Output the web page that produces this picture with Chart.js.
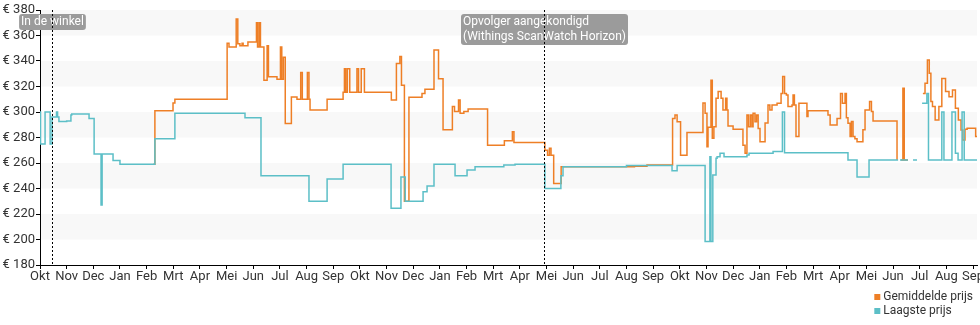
<!DOCTYPE html>
<html lang="nl">
<head>
<meta charset="utf-8">
<title>Prijsverloop</title>
<script src="https://cdn.jsdelivr.net/npm/chart.js@4.4.1/dist/chart.umd.min.js"></script>
<style>
  html, body { margin: 0; padding: 0; background: #fff; }
  #wrap { position: relative; width: 980px; height: 325px; }
</style>
</head>
<body>
<div id="wrap"><canvas id="prijsChart"></canvas></div>
<script>
// x = maanden sinds begin okt (0 = Okt, 35 = Sep drie jaar later)
const maanden = [
  'Okt','Nov','Dec','Jan','Feb','Mrt','Apr','Mei','Jun','Jul','Aug','Sep',
  'Okt','Nov','Dec','Jan','Feb','Mrt','Apr','Mei','Jun','Jul','Aug','Sep',
  'Okt','Nov','Dec','Jan','Feb','Mrt','Apr','Mei','Jun','Jul','Aug','Sep'
]
const prijsTicks = [180, 200, 220, 240, 260, 280, 300, 320, 340, 360, 380]

// [maand, prijs in euro], null = geen prijs bekend
const gemiddeldePrijs = [
  [4.25, 259], [4.31, 301], [4.99, 307], [5.06, 310],
  [7.02, 354], [7.09, 351], [7.36, 373], [7.42, 353.5], [7.50, 352], [7.58, 354], [7.62, 352], [7.80, 355],
  [8.12, 370], [8.16, 351], [8.22, 370], [8.27, 351], [8.40, 325], [8.52, 352], [8.57, 327.7], [8.89, 325.6],
  [9.02, 351], [9.07, 325.6], [9.13, 343], [9.20, 291], [9.43, 311.7], [9.64, 310], [9.78, 331], [9.84, 310],
  [10.03, 331], [10.09, 310], [10.13, 301.6], [10.77, 310], [11.37, 315.4], [11.42, 334], [11.47, 315.4],
  [11.53, 334], [11.62, 315.4], [11.89, 334], [11.95, 315.4], [12.05, 334], [12.17, 315.4],
  [13.18, 309.4], [13.37, 338], [13.50, 343.5], [13.56, 321], [13.67, 230], [13.84, 311.5], [14.33, 314.6],
  [14.44, 317.8], [14.78, 348.6], [14.95, 326], [15.12, 286], [15.47, 304.3], [15.55, 300.4], [15.70, 309.4],
  [15.76, 299], [15.90, 300.4], [16.06, 302.4], [16.79, 274], [17.42, 277.5], [17.72, 284.5], [17.78, 276],
  [18.94, 270], [19.04, 266], [19.11, 271.5], [19.17, 266], [19.27, 244], [19.55, 257], [22.3, 257.5], [22.77, 258.4],
  [23.73, 295], [23.82, 297.6], [23.90, 292.4], [24.03, 266], [24.27, 284], [24.87, 307], [24.95, 299],
  [25.02, 272.8], [25.06, 288], [25.17, 325], [25.22, 279.4], [25.28, 288.5], [25.36, 310.7], [25.44, 316],
  [25.55, 310.7], [25.62, 301.6], [25.72, 310.7], [25.77, 301.6], [25.81, 289], [26.0, 286.5], [26.37, 274],
  [26.45, 267.6], [26.52, 297.6], [26.58, 288.5], [26.65, 297.6], [26.71, 288.5], [26.75, 299], [26.82, 292.4],
  [26.88, 297.6], [26.94, 287], [27.01, 276.7], [27.20, 291.3], [27.31, 305.5], [27.38, 301.6], [27.46, 305.5],
  [27.65, 306.8], [27.80, 314.6], [27.86, 327.8], [27.93, 314.6], [28.0, 313.3], [28.06, 304.3], [28.21, 305.5],
  [28.25, 313.3], [28.30, 305.5], [28.36, 280.8], [28.47, 306.8], [28.77, 296.5], [28.81, 301], [29.56, 297.6],
  [29.64, 289.8], [29.90, 295], [30.03, 314.6], [30.10, 306.8], [30.20, 314.6], [30.25, 295.5], [30.31, 291.2],
  [30.39, 280.8], [30.44, 292.5], [30.50, 280.8], [30.57, 279], [30.65, 276.7], [30.87, 286], [30.95, 301.6],
  [31.12, 308.3], [31.19, 300.4], [31.25, 293], [32.15, 262.4], [32.22, null],
  [32.30, 262.4], [32.37, 318.6], [32.42, 262.4], [32.56, 262.4], [32.62, null],
  [33.12, 314.6], [33.20, 322.6], [33.29, 340.8], [33.36, 330.3], [33.42, 308.3], [33.48, 304.3], [33.58, 293.7],
  [33.72, 304.3], [33.83, 326.3], [33.97, 316], [34.10, 312], [34.23, 317.3], [34.34, 303], [34.45, 293.7],
  [34.55, 285.9], [34.62, 278], [34.70, 286.4], [34.78, 287.2], [35.10, 280.8], [35.15, 280.8]
]

const laagstePrijs = [
  [0, 300], [0.02, 275], [0.19, 300], [0.38, 275], [0.45, 296], [0.62, 300], [0.66, 296], [0.71, 292.5],
  [1.0, 293], [1.16, 297.6], [1.19, 298.4], [1.84, 295], [2.03, 267], [2.29, 227], [2.33, 267], [2.74, 262],
  [3.0, 259], [4.31, 279], [5.06, 299], [7.69, 295.5], [8.29, 250], [10.09, 230], [10.77, 247.5], [11.37, 259],
  [13.17, 224.5], [13.54, 249], [13.70, 230], [14.37, 237.5], [14.52, 242], [14.78, 259], [15.57, 250],
  [16.02, 254.5], [16.32, 257], [17.40, 258.4], [17.82, 259], [18.94, 240], [19.54, 250], [19.62, 257],
  [22.0, 258], [23.71, 254], [23.90, 258], [24.95, 198.5], [25.13, 265], [25.17, 198.5], [25.24, 250.6],
  [25.36, 263.7], [25.40, 265], [25.51, 267.6], [25.66, 265], [26.52, 266.3], [26.60, 267.6], [27.50, 269],
  [27.85, 300], [27.93, 268], [30.31, 262.4], [30.65, 249], [31.10, 262.4], [32.19, 262.4], [32.22, null],
  [32.26, 262.4], [32.56, 262.4], [32.62, null], [32.75, 262.4], [32.90, 262.4], [32.95, null],
  [33.09, 306.8], [33.27, 314.6], [33.33, 262.4], [33.83, 300], [33.91, 262.4], [34.21, 300], [34.34, 267.6],
  [34.44, 262.4], [34.59, 300], [34.67, 262.4], [35.15, 262.4]
]

const gebeurtenisMaand = [0.45, 18.91]
const gebeurtenisTekst = [['In de winkel'], ['Opvolger aangekondigd', '(Withings ScanWatch Horizon)']]

const toPts = arr => arr.map(([x, y]) => ({ x, y }))

// lichtgrijze banden om de 20 euro (200-220, 240-260, ...)
const banden = {
  id: 'banden',
  beforeDraw(chart) {
    const { ctx, chartArea, scales: { y } } = chart
    ctx.save()
    ctx.fillStyle = '#f8f8f8'
    prijsTicks.forEach((v, i) => {
      if (i > 0 && i % 2 === 0) {
        const top = y.getPixelForValue(v)
        const bot = y.getPixelForValue(prijsTicks[i - 1])
        ctx.fillRect(chartArea.left, top, chartArea.right - chartArea.left, bot - top)
      }
    })
    ctx.restore()
  }
}

// gebeurtenissen: label + stippellijn
const gebeurtenissen = {
  id: 'gebeurtenissen',
  afterDatasetsDraw(chart) {
    const { ctx, chartArea, scales: { x } } = chart
    ctx.save()
    ctx.font = '12px Roboto'
    gebeurtenisMaand.forEach((m, i) => {
      const px = Math.round(x.getPixelForValue(m)) + 0.5
      const lines = gebeurtenisTekst[i]
      const w = Math.max(...lines.map(l => ctx.measureText(l).width)) + 4
      const h = lines.length * 15 + 1
      const left = px - w / 2
      const top = chartArea.top + 4
      ctx.fillStyle = '#9b9b9b'
      ctx.beginPath()
      ctx.roundRect(left, top, w, h, 3)
      ctx.fill()
      ctx.fillStyle = '#fff'
      ctx.textBaseline = 'middle'
      lines.forEach((l, j) => ctx.fillText(l, left + 2, top + 8 + j * 15))
      ctx.strokeStyle = '#000'
      ctx.lineWidth = 1
      ctx.setLineDash([2, 2])
      ctx.beginPath()
      ctx.moveTo(px, chartArea.top)
      ctx.lineTo(px, chartArea.bottom)
      ctx.stroke()
      ctx.setLineDash([])
    })
    ctx.restore()
  }
}

// legenda rechtsonder, onder elkaar
const legenda = {
  id: 'legenda',
  afterDraw(chart) {
    const { ctx, chartArea } = chart
    const items = chart.data.datasets
    ctx.save()
    ctx.font = '12px Roboto'
    ctx.textBaseline = 'middle'
    const maxW = Math.max(...items.map(d => ctx.measureText(d.label).width))
    const x0 = chart.width - 7 - maxW - 9
    items.forEach((d, i) => {
      const yy = chartArea.bottom + 32 + i * 14
      ctx.fillStyle = d.borderColor
      ctx.fillRect(x0, yy - 3, 6, 6)
      ctx.fillStyle = '#333'
      ctx.fillText(d.label, x0 + 9, yy)
    })
    ctx.restore()
  }
}

const tickFont = { family: 'Roboto', size: 13 }

const chart = new Chart(document.getElementById('prijsChart'), {
  type: 'line',
  data: {
    datasets: [{
      label: 'Gemiddelde prijs',
      data: toPts(gemiddeldePrijs),
      borderColor: '#ee7f26',
      backgroundColor: '#ee7f26',
      borderWidth: 1.5,
      pointRadius: 0,
      stepped: true,
      spanGaps: false,
      order: 2
    }, {
      label: 'Laagste prijs',
      data: toPts(laagstePrijs),
      borderColor: '#5cbfc7',
      backgroundColor: '#5cbfc7',
      borderWidth: 1.5,
      pointRadius: 0,
      stepped: true,
      spanGaps: false,
      order: 1
    }]
  },
  options: {
    responsive: true,
    maintainAspectRatio: false,
    animation: false,
    layout: { padding: { top: 10, right: 3, left: 0, bottom: 0 } },
    plugins: { legend: { display: false }, tooltip: { enabled: false } },
    scales: {
      x: {
        type: 'linear',
        min: 0,
        max: 35.15,
        border: { color: '#000', width: 1 },
        grid: { drawOnChartArea: false, drawTicks: true, tickLength: 4, color: '#000' },
        ticks: {
          stepSize: 1, autoSkip: false, includeBounds: false, maxRotation: 0, padding: 0,
          color: '#333', font: tickFont,
          callback: v => Number.isInteger(v) ? maanden[v] : ''
        },
        afterFit: s => { s.height = 60; s.paddingLeft = 0; s.paddingRight = 0 }
      },
      y: {
        min: prijsTicks[0],
        max: prijsTicks[prijsTicks.length - 1],
        border: { color: '#000', width: 1 },
        grid: { drawOnChartArea: false, drawTicks: true, tickLength: 4, color: '#000' },
        ticks: { stepSize: 20, padding: 1, color: '#333', font: tickFont, callback: v => '€ ' + v },
        afterFit: s => { s.width = 40 }
      }
    }
  },
  plugins: [banden, gebeurtenissen, legenda]
})
</script>
</body>
</html>
